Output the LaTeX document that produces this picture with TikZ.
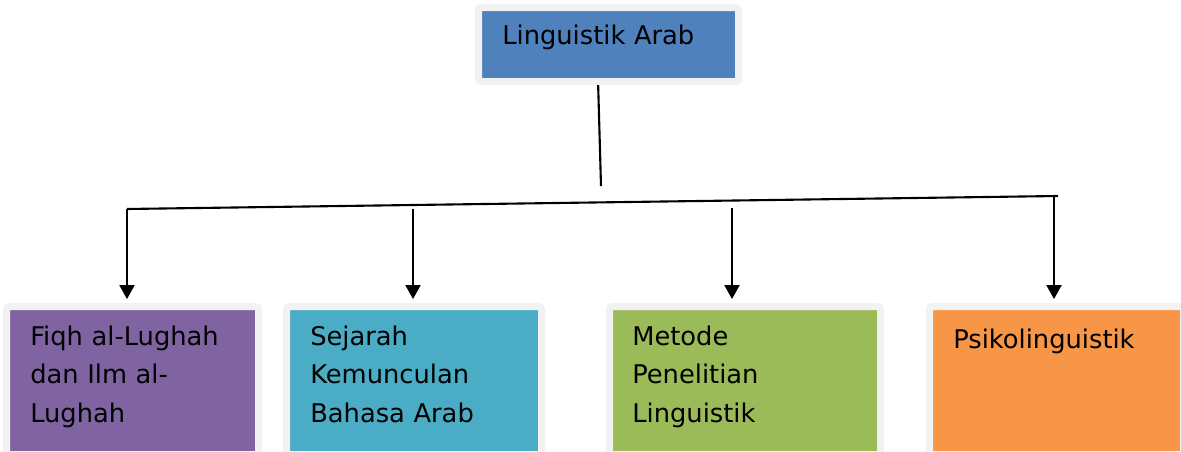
\documentclass[tikz,border=0pt]{standalone}
\usepackage{fontspec}
\setmainfont{DejaVu Sans}
\usetikzlibrary{arrows.meta,calc}
\definecolor{framegray}{HTML}{F2F2F2}
\definecolor{boxblue}{HTML}{4F81BD}
\definecolor{boxpurple}{HTML}{8064A2}
\definecolor{boxteal}{HTML}{4BACC6}
\definecolor{boxgreen}{HTML}{9BBB59}
\definecolor{boxorange}{HTML}{F79646}
\tikzset{
	box/.style={rectangle, draw=framegray, line width=5pt, rounded corners=2pt, anchor=north west, inner sep=0pt},
	boxtext/.style={anchor=base west, inner sep=0pt, text width=5.6cm, align=left, font=\fontsize{18.3}{27.4}\selectfont},
	branch/.style={line width=1.5pt},
	arr/.style={branch, -{Triangle[width=10.6pt,length=9.9pt]}, shorten >=2.8pt}
}

\begin{document}
\begin{tikzpicture}[x=0.025cm,y=-0.025cm]
		%%%%% START %%%%%
		\useasboundingbox (0,0) rectangle (1181,452);
		\clip (0,0) rectangle (1181,452);
		
		% top
		\node[box, fill=boxblue, minimum width=6.5cm, minimum height=1.85cm] (ling) at (475,4) {};
		\node[boxtext] (lingtext) at ($(ling.north west)+(27,41)$) {Linguistik Arab};
		
		% bottom row
		\node[box, fill=boxpurple, minimum width=6.3cm, minimum height=3.7cm] (fiqh) at (3,303) {};
		\node[box, fill=boxteal, minimum width=6.375cm, minimum height=3.7cm] (sejarah) at (283,303) {};
		\node[box, fill=boxgreen, minimum width=6.775cm, minimum height=3.7cm] (metode) at (606,303) {};
		\node[box, fill=boxorange, minimum width=6.35cm, minimum height=3.7cm] (psiko) at (926,303) {};
		
		\node[boxtext] (fiqhtext) at ($(fiqh.north west)+(27,42)$) {Fiqh al-Lughah\\dan Ilm al-\\Lughah};
		\node[boxtext] (sejarahtext) at ($(sejarah.north west)+(27,42)$) {Sejarah\\Kemunculan\\Bahasa Arab};
		\node[boxtext] (metodetext) at ($(metode.north west)+(26,42)$) {Metode\\Penelitian\\Linguistik};
		\node[boxtext] (psikotext) at ($(psiko.north west)+(27,45)$) {Psikolinguistik};
		
		% connectors
		\coordinate (stem) at (601,186);
		\coordinate (barl) at (127,209);
		\coordinate (barr) at (1058,196);
		\coordinate (a2) at (413,209);
		\coordinate (a3) at (732,208);
		\coordinate (a4) at (1054,197);
		
		\draw[branch] ([xshift=-0.26cm]ling.south) -- (stem);
		\draw[branch] (barl) -- (barr);
		\draw[arr] (barl) -- (barl |- fiqh.north);
		\draw[arr] (a2) -- (a2 |- sejarah.north);
		\draw[arr] (a3) -- (a3 |- metode.north);
		\draw[arr] (a4) -- (a4 |- psiko.north);
		
		%%%%% END %%%%%
	\end{tikzpicture}
\end{document}
